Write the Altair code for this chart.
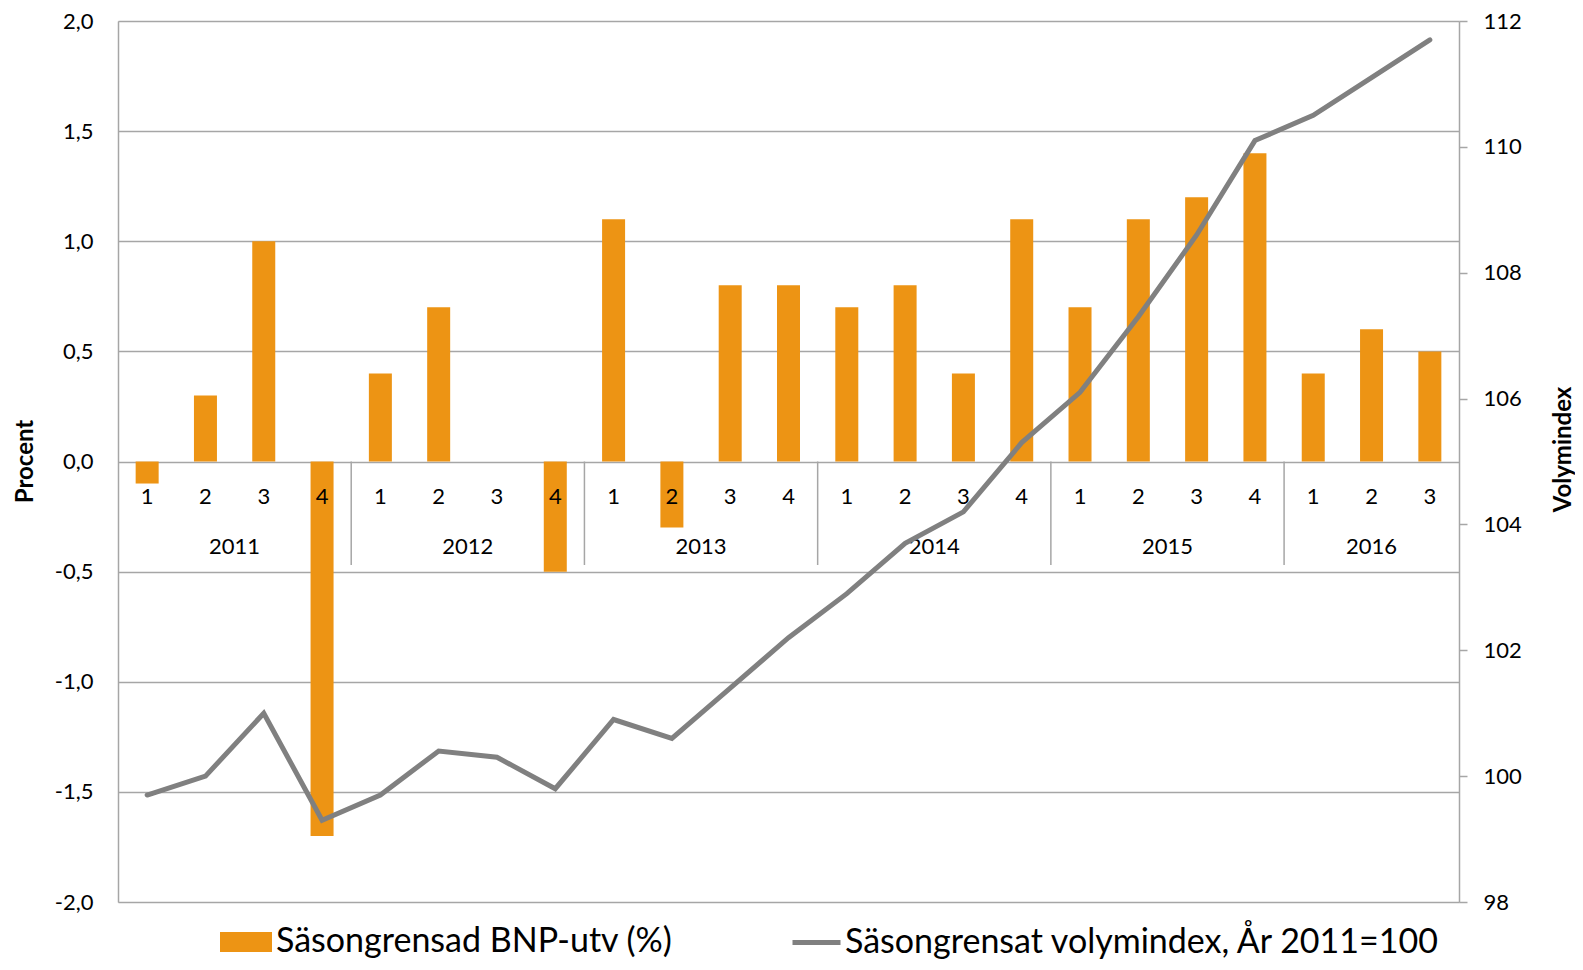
import altair as alt
import pandas as pd

quarters = ["1", "2", "3", "4"] * 5 + ["1", "2", "3"]
quarter_years = [2011] * 4 + [2012] * 4 + [2013] * 4 + [2014] * 4 + [2015] * 4 + [2016] * 3
bnp_growth = [-0.1, 0.3, 1.0, -1.7, 0.4, 0.7, 0.0, -0.5, 1.1, -0.3, 0.8, 0.8,
              0.7, 0.8, 0.4, 1.1, 0.7, 1.1, 1.2, 1.4, 0.4, 0.6, 0.5]
volume_index = [99.7, 100.0, 101.0, 99.3, 99.7, 100.4, 100.3, 99.8, 100.9, 100.6, 101.4, 102.2,
                102.9, 103.7, 104.2, 105.3, 106.1, 107.3, 108.6, 110.1, 110.5, 111.1, 111.7]
years = ["2011", "2012", "2013", "2014", "2015", "2016"]
year_centers = [1.5, 5.5, 9.5, 13.5, 17.5, 21.0]
year_separators = [3.5, 7.5, 11.5, 15.5, 19.5]

BAR_NAME = "Säsongrensad BNP-utv (%)"
LINE_NAME = "Säsongrensat volymindex, År 2011=100"
FONT = "Lato"
GRID = "#a6a6a6"

df = pd.DataFrame({
    "i": list(range(len(quarters))),
    "q": quarters,
    "year": quarter_years,
    "bnp": bnp_growth,
    "idx": volume_index,
    "bar_series": BAR_NAME,
    "line_series": LINE_NAME,
})
ydf = pd.DataFrame({"x": year_centers, "year": years})
sdf = pd.DataFrame({"x": year_separators})

xscale = alt.Scale(domain=[-0.5, 22.5], nice=False, zero=False, padding=0)
yleft = alt.Scale(domain=[-2, 2], nice=False)
yright = alt.Scale(domain=[98, 112], nice=False, zero=False)

comma_expr = "(datum.value < 0 ? '-' : '') + replace(format(abs(datum.value), '.1f'), '.', ',')"

bars = alt.Chart(df).mark_bar(size=23).encode(
    x=alt.X("i:Q", scale=xscale, axis=None),
    y=alt.Y("bnp:Q", scale=yleft,
            axis=alt.Axis(title="Procent", orient="left",
                          values=[-2, -1.5, -1, -0.5, 0, 0.5, 1, 1.5, 2],
                          labelExpr=comma_expr, grid=True, gridColor=GRID, gridWidth=1.5,
                          domain=True, domainColor=GRID, domainWidth=1.5, ticks=False,
                          labelPadding=25, labelFontSize=22, labelFont=FONT, labelColor="#000",
                          titleFontSize=24, titleFont=FONT, titleFontWeight="bold", titleColor="#000",
                          titleX=-93, titleY=440, titleAngle=270, titleBaseline="middle",
                          titleAlign="center")),
    y2=alt.datum(0),
    fill=alt.Fill("bar_series:N", scale=alt.Scale(domain=[BAR_NAME], range=["#ED9414"]),
                  legend=alt.Legend(title=None, orient="none", legendX=102, legendY=895,
                                    symbolType="M-1,-0.38H1V0.38H-1Z", symbolSize=2704,
                                    symbolStrokeWidth=0, labelFontSize=34, labelFont=FONT,
                                    labelColor="#000", labelOffset=4, labelLimit=800)),
)

seps = alt.Chart(sdf).mark_rule(color=GRID, strokeWidth=1.5).encode(
    x=alt.X("x:Q", scale=xscale, axis=None),
    y=alt.Y(datum=0, scale=yleft, axis=None),
    y2=alt.datum(-0.47),
)

qlabels = alt.Chart(df).mark_text(fontSize=22, font=FONT, color="#000", baseline="middle").encode(
    x=alt.X("i:Q", scale=xscale, axis=None),
    y=alt.Y(datum=-0.16, scale=yleft, axis=None),
    text="q:N",
)

ylabels = alt.Chart(ydf).mark_text(fontSize=22, font=FONT, color="#000", baseline="middle").encode(
    x=alt.X("x:Q", scale=xscale, axis=None),
    y=alt.Y(datum=-0.39, scale=yleft, axis=None),
    text="year:N",
)

line = alt.Chart(df).mark_line(strokeWidth=5, strokeCap="round").encode(
    x=alt.X("i:Q", scale=xscale, axis=None),
    y=alt.Y("idx:Q", scale=yright,
            axis=alt.Axis(title="Volymindex", orient="right", values=list(range(98, 113, 2)),
                          grid=False, domain=True, domainColor=GRID, domainWidth=1.5,
                          ticks=True, tickSize=8, tickColor=GRID, tickWidth=1.5,
                          labelPadding=16, labelFontSize=22, labelFont=FONT, labelColor="#000",
                          titleFontSize=24, titleFont=FONT, titleFontWeight="bold", titleColor="#000",
                          titleX=104, titleY=428, titleAngle=270, titleBaseline="middle",
                          titleAlign="center")),
    stroke=alt.Stroke("line_series:N", scale=alt.Scale(domain=[LINE_NAME], range=["#808080"]),
                      legend=alt.Legend(title=None, orient="none", legendX=672, legendY=895,
                                        symbolType="stroke", symbolSize=2304, symbolStrokeWidth=5,
                                        labelFontSize=34, labelFont=FONT, labelColor="#000",
                                        labelOffset=2, labelLimit=800)),
)

chart = alt.layer(bars, seps, qlabels, ylabels, line).resolve_scale(
    y="independent"
).properties(
    width=1341, height=881,
    padding={"left": 110, "top": 13, "right": 116, "bottom": 60},
    autosize="none",
).configure_view(stroke=None).configure(background="white")

chart.save("out.html", embed_options={"renderer": "svg", "actions": False})
